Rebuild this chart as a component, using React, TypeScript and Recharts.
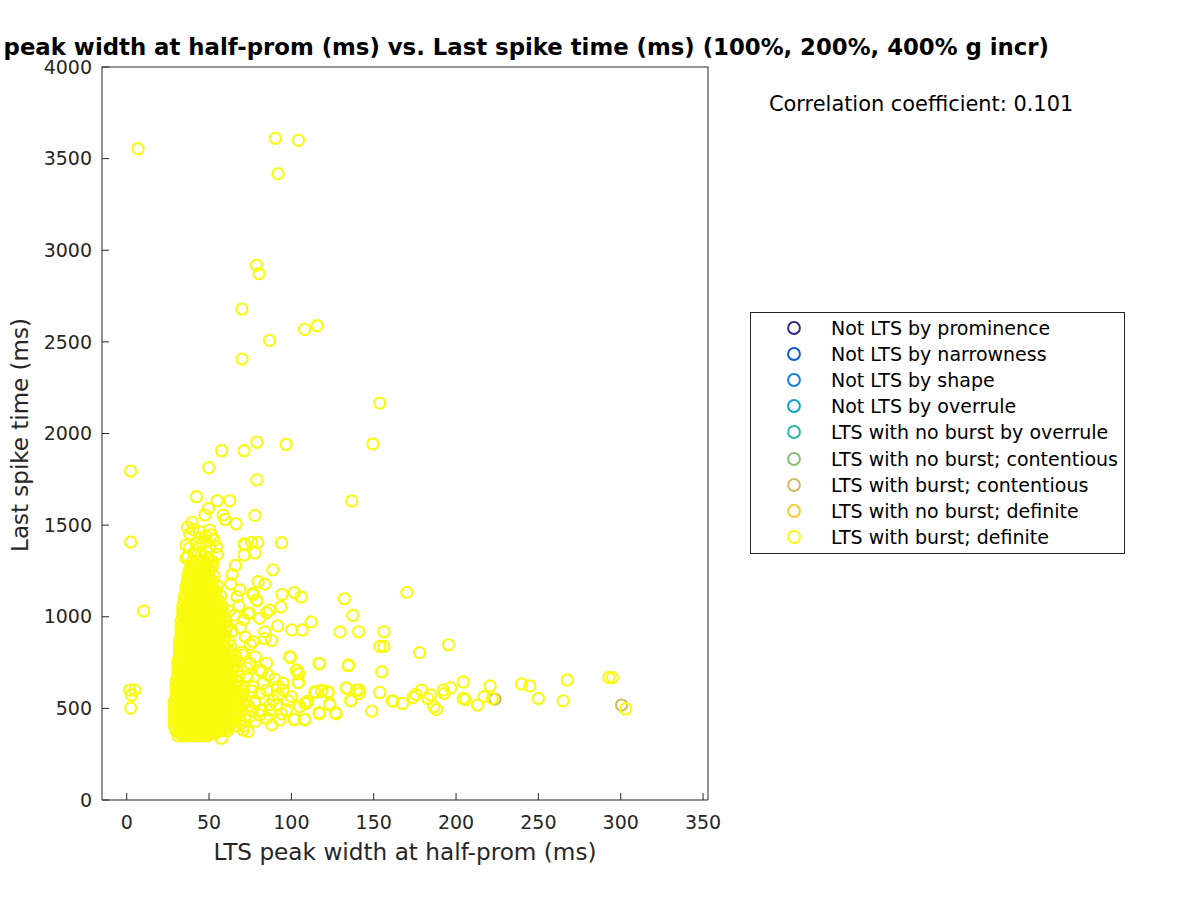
import React from 'react';
import { ScatterChart, Scatter, XAxis, YAxis } from 'recharts';

const xTicks = [0, 50, 100, 150, 200, 250, 300, 350];
const yTicks = [0, 500, 1000, 1500, 2000, 2500, 3000, 3500, 4000];

const groupNames = [
  'Not LTS by prominence',
  'Not LTS by narrowness',
  'Not LTS by shape',
  'Not LTS by overrule',
  'LTS with no burst by overrule',
  'LTS with no burst; contentious',
  'LTS with burst; contentious',
  'LTS with no burst; definite',
  'LTS with burst; definite',
];
const groupColors = [
  '#352A87', '#0F5CDD', '#1481D6', '#06A4CA', '#2EB7A4',
  '#87BF77', '#D1BB59', '#FEC832', '#F9FB0E',
];

// dense core of the burst/definite cloud: spike time level -> peak widths seen on that level
const coreTimes = [
  350, 377, 404, 431, 458, 486, 513, 540, 568, 595, 622, 649, 677, 704, 731, 759, 786, 813,
  840, 868, 895, 922, 950, 977, 1004, 1031, 1059, 1086, 1113, 1141, 1168, 1195, 1222, 1250, 1277, 1304,
];
const coreWidths = [
  [31, 34, 37, 40, 43, 46, 49],
  [30, 33, 36, 39, 42, 45, 48, 51, 54, 57, 61],
  [29, 32, 35, 38, 41, 44, 47, 50, 53, 56, 59, 62, 66, 71],
  [29, 32, 35, 38, 41, 44, 47, 50, 53, 56, 59, 62, 65, 69],
  [29, 32, 35, 38, 41, 44, 47, 50, 53, 56, 59, 63, 67, 72],
  [29, 32, 35, 38, 41, 44, 47, 50, 53, 56, 59, 62, 66, 70, 76],
  [29, 32, 35, 38, 41, 44, 47, 50, 53, 56, 59, 62, 65, 69, 74],
  [29, 32, 35, 38, 41, 44, 47, 50, 53, 56, 59, 62, 65, 68, 72, 78],
  [30, 33, 36, 39, 42, 45, 48, 51, 54, 57, 60, 63, 66, 70],
  [30, 33, 36, 39, 42, 45, 48, 51, 54, 57, 60, 63, 67, 71, 76],
  [30, 33, 36, 39, 42, 45, 48, 51, 54, 57, 60, 63, 66, 69],
  [30, 33, 36, 39, 42, 45, 48, 51, 54, 57, 60, 63, 67],
  [31, 34, 37, 40, 43, 46, 49, 52, 55, 58, 61, 64, 68, 73],
  [31, 34, 37, 40, 43, 46, 49, 52, 55, 58, 61, 64, 67],
  [31, 34, 37, 40, 43, 46, 49, 52, 55, 58, 61, 65],
  [31, 34, 37, 40, 43, 46, 49, 52, 55, 58, 61, 64],
  [32, 35, 38, 41, 44, 47, 50, 53, 56, 59, 62, 66],
  [32, 35, 38, 41, 44, 47, 50, 53, 56, 59, 62],
  [32, 35, 38, 41, 44, 47, 50, 53, 56, 59, 63],
  [32, 35, 38, 41, 44, 47, 50, 53, 56, 59, 62],
  [33, 36, 39, 42, 45, 48, 51, 54, 57, 60],
  [33, 36, 39, 42, 45, 48, 51, 54, 57, 60, 64],
  [33, 36, 39, 42, 45, 48, 51, 54, 57, 61],
  [33, 36, 39, 42, 45, 48, 51, 54, 57, 60],
  [34, 37, 40, 43, 46, 49, 52, 55, 58],
  [34, 37, 40, 43, 46, 49, 52, 55, 58, 62],
  [34, 37, 40, 43, 46, 49, 52, 55, 58],
  [35, 38, 41, 44, 47, 50, 53, 56],
  [35, 38, 41, 44, 47, 50, 53, 57],
  [36, 39, 42, 45, 48, 51, 54],
  [36, 39, 42, 45, 48, 51, 55],
  [37, 40, 43, 46, 49, 52],
  [37, 40, 43, 46, 49, 53],
  [38, 41, 44, 47, 50],
  [39, 42, 45, 48, 52],
  [40, 44, 47, 50],
];

// the in-between levels of the same core (it reads as solid yellow)
const coreTimesB = [
  363, 390, 417, 444, 472, 499, 526, 554, 581, 608, 635, 663, 690, 717, 745, 772, 799, 826,
  854, 881, 908, 936, 963, 990, 1017, 1045, 1072, 1100, 1127, 1154, 1181, 1208, 1236, 1263, 1290,
];
const coreWidthsB = [
  [32.5, 35.5, 38.5, 41.5, 44.5, 47.5, 50.5, 53.5],
  [30.5, 33.5, 36.5, 39.5, 42.5, 45.5, 48.5, 51.5, 54.5, 57.5, 60.5],
  [30.5, 33.5, 36.5, 39.5, 42.5, 45.5, 48.5, 51.5, 54.5, 57.5, 60.5, 63.5],
  [30.5, 33.5, 36.5, 39.5, 42.5, 45.5, 48.5, 51.5, 54.5, 57.5, 60.5, 64.5],
  [30.5, 33.5, 36.5, 39.5, 42.5, 45.5, 48.5, 51.5, 54.5, 57.5, 60.5, 63.5, 67.5],
  [30.5, 33.5, 36.5, 39.5, 42.5, 45.5, 48.5, 51.5, 54.5, 57.5, 60.5, 63.5, 67.5],
  [30.5, 33.5, 36.5, 39.5, 42.5, 45.5, 48.5, 51.5, 54.5, 57.5, 60.5, 63.5, 66.5, 70.5],
  [31.5, 34.5, 37.5, 40.5, 43.5, 46.5, 49.5, 52.5, 55.5, 58.5, 61.5, 64.5],
  [31.5, 34.5, 37.5, 40.5, 43.5, 46.5, 49.5, 52.5, 55.5, 58.5, 61.5, 64.5, 68.5],
  [31.5, 34.5, 37.5, 40.5, 43.5, 46.5, 49.5, 52.5, 55.5, 58.5, 61.5, 64.5],
  [31.5, 34.5, 37.5, 40.5, 43.5, 46.5, 49.5, 52.5, 55.5, 58.5, 61.5],
  [32.5, 35.5, 38.5, 41.5, 44.5, 47.5, 50.5, 53.5, 56.5, 59.5, 62.5],
  [32.5, 35.5, 38.5, 41.5, 44.5, 47.5, 50.5, 53.5, 56.5, 59.5, 62.5],
  [32.5, 35.5, 38.5, 41.5, 44.5, 47.5, 50.5, 53.5, 56.5, 59.5],
  [32.5, 35.5, 38.5, 41.5, 44.5, 47.5, 50.5, 53.5, 56.5, 59.5, 62.5],
  [33.5, 36.5, 39.5, 42.5, 45.5, 48.5, 51.5, 54.5, 57.5, 60.5],
  [33.5, 36.5, 39.5, 42.5, 45.5, 48.5, 51.5, 54.5, 57.5],
  [33.5, 36.5, 39.5, 42.5, 45.5, 48.5, 51.5, 54.5, 57.5, 60.5],
  [33.5, 36.5, 39.5, 42.5, 45.5, 48.5, 51.5, 54.5, 57.5],
  [34.5, 37.5, 40.5, 43.5, 46.5, 49.5, 52.5, 55.5, 58.5],
  [34.5, 37.5, 40.5, 43.5, 46.5, 49.5, 52.5, 55.5, 58.5],
  [34.5, 37.5, 40.5, 43.5, 46.5, 49.5, 52.5, 55.5],
  [34.5, 37.5, 40.5, 43.5, 46.5, 49.5, 52.5, 55.5, 58.5],
  [35.5, 38.5, 41.5, 44.5, 47.5, 50.5, 53.5, 56.5],
  [35.5, 38.5, 41.5, 44.5, 47.5, 50.5, 53.5, 56.5],
  [35.5, 38.5, 41.5, 44.5, 47.5, 50.5, 53.5, 56.5],
  [36.5, 39.5, 42.5, 45.5, 48.5, 51.5, 54.5],
  [36.5, 39.5, 42.5, 45.5, 48.5, 51.5, 54.5],
  [37.5, 40.5, 43.5, 46.5, 49.5, 52.5],
  [37.5, 40.5, 43.5, 46.5, 49.5, 52.5],
  [38.5, 41.5, 44.5, 47.5, 50.5],
  [38.5, 41.5, 44.5, 47.5, 50.5],
  [39.5, 42.5, 45.5, 48.5],
  [40.5, 43.5, 46.5, 49.5],
  [41.5, 45.5, 48.5],
];

// burst/definite points outside the core, [peak width, last spike time]
const definiteOutliers = [
  [6.9, 3554], [90.3, 3611], [104.3, 3600], [91.9, 3418], [78.8, 2918], [80.4, 2872], [70, 2679],
  [108, 2568], [115.6, 2588], [86.7, 2508], [70, 2406], [153.7, 2166], [149.5, 1943], [136.7, 1632],
  [2.4, 1795], [2.4, 1408], [10.3, 1031], [1.8, 600], [4.9, 600], [2.4, 502], [3, 573],
  [57.7, 1906], [71.3, 1906], [79, 1952], [96.8, 1940], [49.8, 1813], [79, 1747], [42.3, 1655],
  [54.9, 1633], [62.6, 1633], [49.6, 1591], [47.4, 1555], [58.5, 1555], [59.7, 1531], [66.4, 1507],
  [77.8, 1553], [37, 1488], [39.7, 1515], [38.3, 1452], [71.3, 1397], [75.9, 1406], [79.6, 1406],
  [77.8, 1348], [71.3, 1337], [94, 1404], [88.7, 1256], [37, 1328], [40.3, 1476], [44.3, 1464],
  [50.4, 1473], [51.4, 1446], [42.3, 1401], [50.4, 1382], [54.5, 1382], [48.4, 1355], [52.4, 1301],
  [71.7, 1392], [79.8, 1191], [68.7, 1146], [76.7, 1128], [78.8, 1091], [73.7, 1019],
  [36, 1320], [41, 1340], [45, 1330], [49, 1320], [55, 1340], [38, 1375], [46, 1400], [44, 1430],
  [48, 1440], [53, 1420], [36, 1390],
  [83.8, 1178], [76.7, 1121], [79, 1087], [94.3, 1121], [101.8, 1132], [105.9, 1108], [93.6, 1053],
  [132.2, 1098], [137.3, 1007], [129.6, 917], [140.8, 918], [156.2, 918], [153.7, 838], [156.2, 838],
  [154.9, 700], [134.5, 733], [117, 743], [99.4, 778], [103.3, 708], [104.5, 688], [104.3, 641],
  [112, 972], [106.5, 928], [100.2, 928], [91.7, 950], [76.7, 863], [83.8, 881], [88, 870], [83.8, 918],
  [84.9, 1022], [86.9, 1037], [80.8, 991], [74.7, 1018], [65.6, 1009], [133.5, 612], [141.2, 600],
  [141.2, 581], [136.1, 541], [148.8, 485], [153.7, 587], [161.2, 541], [127.1, 470], [123.3, 518],
  [117, 470], [114.6, 587], [118.6, 600], [122.3, 587], [108.1, 528], [108.1, 439], [101.6, 439],
  [110, 540],
  [170.1, 1133], [177.8, 804], [195.4, 847], [161.8, 540], [167.5, 527], [174, 559], [175.6, 576],
  [179, 600], [182.7, 554], [184.5, 573], [186.5, 509], [188.2, 494], [192.2, 600], [192.8, 581],
  [196.8, 612], [204.3, 644], [204.3, 554], [205.8, 548], [213.1, 518], [217, 564], [220.7, 622],
  [222, 554], [239.7, 633], [244.8, 622], [250, 554], [265, 541], [267.5, 655], [292.8, 668],
  [295, 668], [303, 497],
  [99, 782], [116.8, 746], [134.7, 737], [103, 709], [104, 691], [104, 640], [133.5, 609], [139.5, 600],
  [136, 542], [114.2, 591], [118.3, 591], [122.3, 591], [123.3, 524], [116.8, 476], [126.8, 476],
  [108.1, 437], [102, 440], [109.2, 528], [105.1, 509], [100, 564], [95, 637], [91.9, 618], [97, 491],
  [93, 437], [84.9, 446], [86.9, 491], [88.9, 546], [80.8, 582], [80.8, 709], [84.9, 746], [74.7, 746],
  [70.7, 791], [72.7, 673], [73.7, 373], [70.7, 382], [76.7, 618], [82.8, 637], [90.9, 518], [77.8, 528],
  [74.7, 455], [80.8, 464], [57.5, 337],
  [67, 1110], [71, 985], [69, 940], [72, 890], [75, 850], [70, 805], [78, 780], [66, 760], [73, 720],
  [82, 700], [86, 680], [90, 660], [95, 600], [85, 600], [92, 575], [98, 540], [87, 520], [94, 470],
  [82, 490], [78, 430], [88, 410], [68, 1060], [63, 1180], [64, 1230], [66, 1280],
];

const contentiousPts = [[223.6, 551], [300.5, 518]];

const toPts = (arr: number[][]) => arr.map(([w, t]) => ({ w, t }));
const rowsToPts = (times: number[], widths: number[][]) =>
  times.flatMap((t, i) => widths[i].map((w) => ({ w, t })));

const definitePts = [
  ...rowsToPts(coreTimes, coreWidths),
  ...rowsToPts(coreTimesB, coreWidthsB),
  ...toPts(definiteOutliers),
];

const groupData = groupNames.map((_, i) =>
  i === 6 ? toPts(contentiousPts) : i === 8 ? definitePts : []
);

const AXIS = '#262626';
const FONT = 'DejaVu Sans';

const ring = (color: string) => (p: any) =>
  <circle cx={p.cx} cy={p.cy} r={5.6} fill="none" stroke={color} strokeWidth={2.1} />;

const App: React.FC = () => {
  return (
    <div style={{ position: 'absolute', left: 0, top: 0, width: 1200, height: 900, overflow: 'hidden', background: '#fff', fontFamily: FONT, color: '#000' }}>
      <ScatterChart width={1200} height={900} margin={{ top: 66, right: 491, bottom: 40, left: 42 }}>
        <XAxis xAxisId="b" dataKey="w" type="number" domain={[-15, 353]} ticks={xTicks} allowDataOverflow
          height={60} stroke={AXIS} tickSize={-7} tickMargin={23}
          tick={{ fontSize: 19, fill: AXIS, fontFamily: FONT }} />
        <XAxis xAxisId="t" orientation="top" dataKey="w" type="number" domain={[-15, 353]} ticks={xTicks} allowDataOverflow
          height={1} stroke={AXIS} tickSize={-7} tick={false} />
        <YAxis yAxisId="l" dataKey="t" type="number" domain={[0, 4000]} ticks={yTicks} allowDataOverflow
          width={60} stroke={AXIS} tickSize={-7} tickMargin={17}
          tick={{ fontSize: 19, fill: AXIS, fontFamily: FONT }} />
        <YAxis yAxisId="r" orientation="right" dataKey="t" type="number" domain={[0, 4000]} ticks={yTicks} allowDataOverflow
          width={1} stroke={AXIS} tickSize={-7} tick={false} />
        {groupNames.map((name, i) => (
          <Scatter key={name} name={name} xAxisId="b" yAxisId="l" data={groupData[i]}
            fill={groupColors[i]} shape={ring(groupColors[i])} isAnimationActive={false} />
        ))}
      </ScatterChart>

      <div style={{ position: 'absolute', right: 151, top: 36, whiteSpace: 'nowrap', fontWeight: 'bold', fontSize: 22.8, lineHeight: '22px' }}>
        LTS peak width at half-prom (ms) vs. Last spike time (ms) (100%, 200%, 400% g incr)
      </div>
      <div style={{ position: 'absolute', left: 769, top: 93, whiteSpace: 'nowrap', fontSize: 20.9, lineHeight: '22px' }}>
        Correlation coefficient: 0.101
      </div>
      <div style={{ position: 'absolute', left: 405, top: 852, transform: 'translate(-50%, -50%)', whiteSpace: 'nowrap', fontSize: 23.2, lineHeight: '24px', color: AXIS }}>
        LTS peak width at half-prom (ms)
      </div>
      <div style={{ position: 'absolute', left: 20, top: 435, transform: 'translate(-50%, -50%) rotate(-90deg)', whiteSpace: 'nowrap', fontSize: 23, lineHeight: '24px', color: AXIS }}>
        Last spike time (ms)
      </div>

      <div style={{ position: 'absolute', left: 750, top: 312, width: 373, height: 240, border: `1px solid ${AXIS}`, background: '#fff' }}>
        {groupNames.map((name, i) => (
          <div key={name} style={{ position: 'absolute', left: 0, top: 15 + i * 26.1, height: 0 }}>
            <svg width={16} height={16} style={{ position: 'absolute', left: 35, top: -8 }}>
              <circle cx={8} cy={8} r={5.9} fill="none" stroke={groupColors[i]} strokeWidth={2} />
            </svg>
            <span style={{ position: 'absolute', left: 80, top: -11, whiteSpace: 'nowrap', fontSize: 19, lineHeight: '22px' }}>{name}</span>
          </div>
        ))}
      </div>
    </div>
  );
};

export default App;
